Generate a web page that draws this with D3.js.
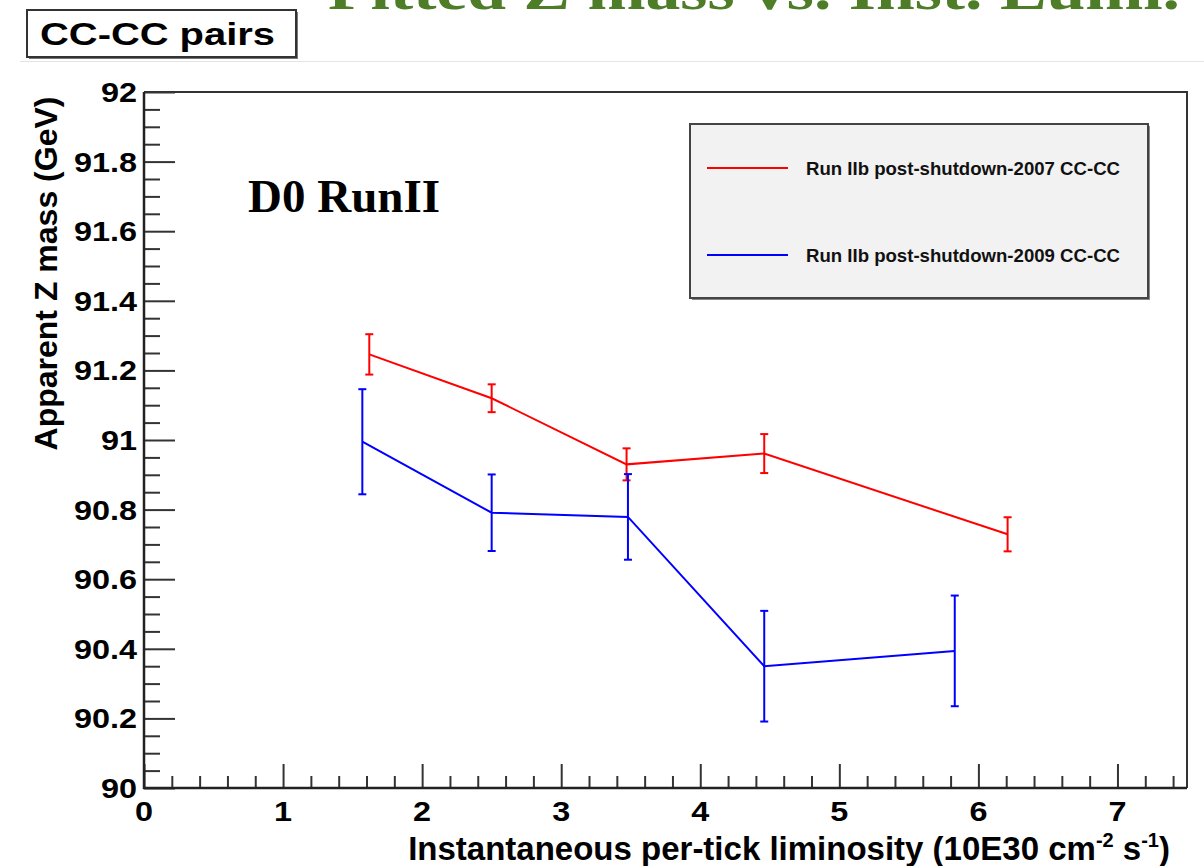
<!DOCTYPE html>
<html>
<head>
<meta charset="utf-8">
<script src="https://cdn.jsdelivr.net/npm/d3@7"></script>
<style>
  body { margin: 0; background: #fff; }
  svg { display: block; }
</style>
</head>
<body>
<svg id="chart"></svg>
<script>
// values
var lumi2007 = [1.62, 2.50, 3.47, 4.46, 6.21];
var mass2007 = [91.246, 91.120, 90.930, 90.961, 90.729];
var err2007 = [0.058, 0.040, 0.046, 0.056, 0.049];

var lumi2009 = [1.57, 2.50, 3.48, 4.46, 5.83];
var mass2009 = [90.995, 90.791, 90.779, 90.350, 90.394];
var err2009 = [0.151, 0.110, 0.123, 0.159, 0.159];

var seriesNames = ['Run IIb post-shutdown-2007 CC-CC', 'Run IIb post-shutdown-2009 CC-CC'];
var seriesColors = ['#ff0000', '#0000ff'];

var xTickValues = [0, 1, 2, 3, 4, 5, 6, 7];
var yTickValues = [90, 90.2, 90.4, 90.6, 90.8, 91, 91.2, 91.4, 91.6, 91.8, 92];
var yTickLabels = ['90', '90.2', '90.4', '90.6', '90.8', '91', '91.2', '91.4', '91.6', '91.8', '92'];

var width = 1204, height = 866;
var frame = {left: 144, right: 1187, top: 92, bottom: 788};
var sans = '"Liberation Sans", Arial, Helvetica, sans-serif';
var serif = '"Liberation Serif", "Times New Roman", serif';

var svg = d3.select('svg#chart')
    .attr('width', width)
    .attr('height', height)
    .attr('viewBox', '0 0 ' + width + ' ' + height);

var x = d3.scaleLinear().domain([0, 7.5]).range([frame.left, frame.right]);
var y = d3.scaleLinear().domain([90, 92]).range([frame.bottom, frame.top]);

// pad border line
svg.append('line')
    .attr('x1', 20).attr('x2', width)
    .attr('y1', 61.5).attr('y2', 61.5)
    .style('stroke', '#e4e4e4').style('stroke-width', 1);

// frame top + right
svg.append('path')
    .attr('d', 'M' + frame.left + ',' + frame.top + 'H' + frame.right + 'V' + frame.bottom)
    .style('fill', 'none').style('stroke', '#333').style('stroke-width', 2);

// minor / major ticks
var minorY = d3.range(90, 92.001, 0.05).filter(function(v){ return Math.abs(v * 5 - Math.round(v * 5)) > 1e-6; });
var minorX = d3.range(0, 7.5001, 0.2).filter(function(v){ return Math.abs(v - Math.round(v)) > 1e-6; });

svg.append('g')
    .attr('transform', 'translate(' + frame.left + ',0)')
    .call(d3.axisRight(y).tickValues(minorY).tickSize(16).tickFormat(''))
    .call(function(g){ g.select('.domain').remove(); });
svg.append('g')
    .attr('transform', 'translate(' + frame.left + ',0)')
    .call(d3.axisRight(y).tickValues(yTickValues).tickSize(31).tickFormat(''))
    .call(function(g){ g.select('.domain').remove(); });
svg.append('g')
    .attr('transform', 'translate(0,' + frame.bottom + ')')
    .call(d3.axisTop(x).tickValues(minorX).tickSize(12).tickFormat(''))
    .call(function(g){ g.select('.domain').remove(); });
svg.append('g')
    .attr('transform', 'translate(0,' + frame.bottom + ')')
    .call(d3.axisTop(x).tickValues(xTickValues).tickSize(24).tickFormat(''))
    .call(function(g){ g.select('.domain').remove(); });

svg.selectAll('.tick line').style('stroke', '#333').style('stroke-width', 2);

// axis lines
svg.append('path')
    .attr('d', 'M' + frame.left + ',' + frame.top + 'V' + frame.bottom + 'H' + frame.right)
    .style('fill', 'none').style('stroke', '#222').style('stroke-width', 2.5);

// tick labels (font drawn a bit wide, as in the picture)
svg.append('g').selectAll('text')
    .data(yTickValues)
    .enter().append('text')
    .attr('transform', function(d){ return 'translate(137,' + (y(d) + 10) + ') scale(1.2,1)'; })
    .attr('text-anchor', 'end')
    .style('font-family', sans).style('font-weight', 'bold').style('font-size', '27px')
    .text(function(d, i){ return yTickLabels[i]; });

svg.append('g').selectAll('text')
    .data(xTickValues)
    .enter().append('text')
    .attr('transform', function(d){ return 'translate(' + x(d) + ',821) scale(1.2,1)'; })
    .attr('text-anchor', 'middle')
    .style('font-family', sans).style('font-weight', 'bold').style('font-size', '27px')
    .text(function(d){ return d; });

// axis titles
svg.append('text')
    .attr('transform', 'translate(57,' + ((frame.top + 455) / 2) + ') rotate(-90)')
    .attr('text-anchor', 'middle')
    .style('font-family', sans).style('font-weight', 'bold').style('font-size', '32px')
    .text('Apparent Z mass (GeV)');

var xTitle = svg.append('text')
    .attr('x', 1170).attr('y', 860)
    .attr('text-anchor', 'end')
    .style('font-family', sans).style('font-weight', 'bold').style('font-size', '33px');
xTitle.append('tspan').text('Instantaneous per-tick liminosity (10E30 cm');
xTitle.append('tspan').attr('dy', -13).style('font-size', '20px').text('-2');
xTitle.append('tspan').attr('dy', 13).text(' s');
xTitle.append('tspan').attr('dy', -13).style('font-size', '20px').text('-1');
xTitle.append('tspan').attr('dy', 13).text(')');

// series: polyline + error bars
var series = [
    {lumi: lumi2007, mass: mass2007, err: err2007},
    {lumi: lumi2009, mass: mass2009, err: err2009}
];

var line = d3.line()
    .x(function(d){ return x(d[0]); })
    .y(function(d){ return y(d[1]); });

series.forEach(function(s, k){
    var pts = s.lumi.map(function(v, i){ return [v, s.mass[i], s.err[i]]; });
    var g = svg.append('g').style('stroke', seriesColors[k]).style('fill', 'none').style('stroke-width', 2);
    g.append('path').attr('d', line(pts));
    var bars = g.selectAll('g.err').data(pts).enter().append('g').attr('class', 'err');
    bars.append('line')
        .attr('x1', function(d){ return x(d[0]); }).attr('x2', function(d){ return x(d[0]); })
        .attr('y1', function(d){ return y(d[1] + d[2]); }).attr('y2', function(d){ return y(d[1] - d[2]); });
    bars.append('line')
        .attr('x1', function(d){ return x(d[0]) - 4; }).attr('x2', function(d){ return x(d[0]) + 4; })
        .attr('y1', function(d){ return y(d[1] + d[2]); }).attr('y2', function(d){ return y(d[1] + d[2]); });
    bars.append('line')
        .attr('x1', function(d){ return x(d[0]) - 4; }).attr('x2', function(d){ return x(d[0]) + 4; })
        .attr('y1', function(d){ return y(d[1] - d[2]); }).attr('y2', function(d){ return y(d[1] - d[2]); });
});

// legend
var legend = svg.append('g').attr('transform', 'translate(690,124)');
legend.append('rect')
    .attr('x', 2).attr('y', 2).attr('width', 458).attr('height', 174)
    .style('fill', '#888');
legend.append('rect')
    .attr('width', 458).attr('height', 174)
    .style('fill', '#f2f2f2').style('stroke', '#444').style('stroke-width', 2);
var items = legend.selectAll('g.item').data(seriesNames).enter().append('g')
    .attr('class', 'item')
    .attr('transform', function(d, i){ return 'translate(0,' + (44 + i * 87) + ')'; });
items.append('line')
    .attr('x1', 17).attr('x2', 98)
    .style('stroke', function(d, i){ return seriesColors[i]; }).style('stroke-width', 2);
items.append('text')
    .attr('x', 116).attr('y', 7)
    .attr('textLength', 314).attr('lengthAdjust', 'spacingAndGlyphs')
    .style('font-family', sans).style('font-weight', 'bold').style('font-size', '18px')
    .style('fill', '#111')
    .text(function(d){ return d; });

// D0 RunII label
svg.append('text')
    .attr('x', 248).attr('y', 212)
    .style('font-family', serif).style('font-weight', 'bold').style('font-size', '47px')
    .text('D0 RunII');

// CC-CC pairs box
svg.append('rect')
    .attr('x', 29).attr('y', 12).attr('width', 269).attr('height', 47)
    .style('fill', '#777');
svg.append('rect')
    .attr('x', 27).attr('y', 10).attr('width', 269).attr('height', 47)
    .style('fill', '#fff').style('stroke', '#333').style('stroke-width', 2);
svg.append('text')
    .attr('x', 40).attr('y', 45)
    .attr('textLength', 235).attr('lengthAdjust', 'spacingAndGlyphs')
    .style('font-family', sans).style('font-weight', 'bold').style('font-size', '31px')
    .text('CC-CC pairs');

// slide title, cut off at the top edge
svg.append('text')
    .attr('x', 328).attr('y', 9)
    .attr('textLength', 852).attr('lengthAdjust', 'spacingAndGlyphs')
    .style('font-family', serif).style('font-weight', 'bold').style('font-size', '56px')
    .style('fill', '#4e7d27')
    .text('Fitted Z mass vs. Inst. Lumi.');
</script>
</body>
</html>
